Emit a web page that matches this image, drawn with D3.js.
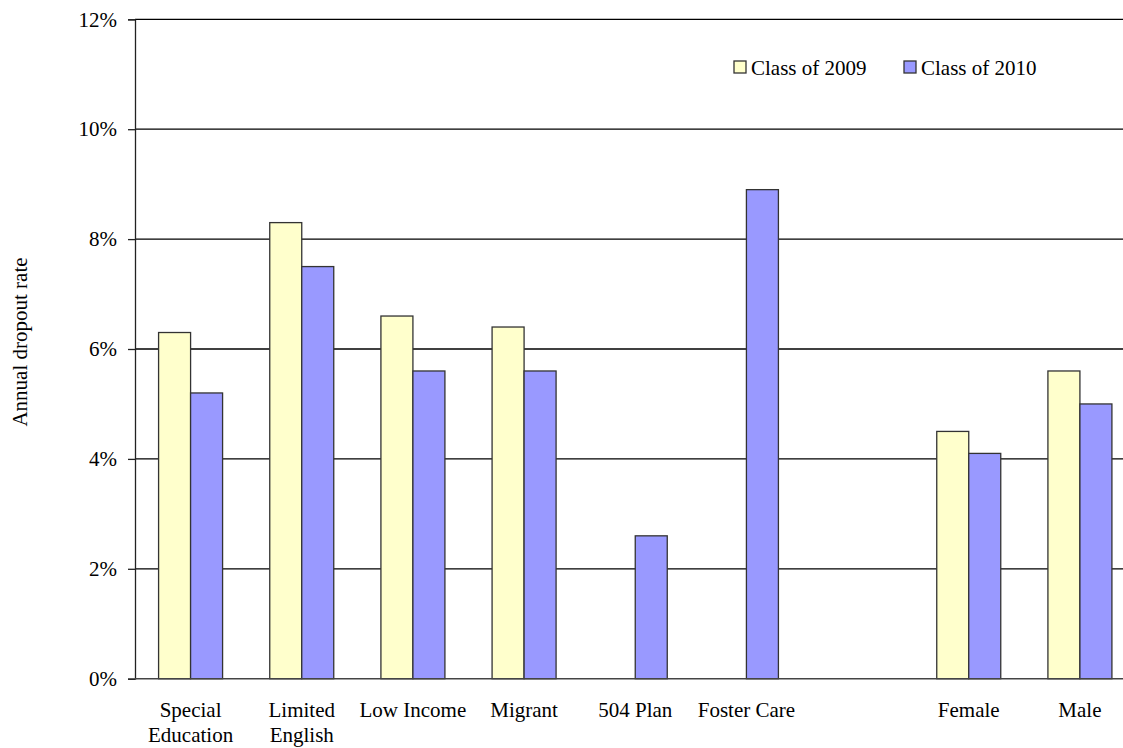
<!DOCTYPE html>
<html>
<head>
<meta charset="utf-8">
<script src="https://cdn.jsdelivr.net/npm/d3@7"></script>
<style>
  html, body { margin: 0; padding: 0; background: #fff; }
  svg { display: block; }
  svg text { font-family: "Liberation Serif", "Times New Roman", "DejaVu Serif", serif !important; }
</style>
</head>
<body>
<svg id="chart" width="1123" height="748"></svg>
<script>
const categories = ["Special Education", "Limited English", "Low Income", "Migrant", "504 Plan", "Foster Care", "", "Female", "Male"];
const categoryLines = [["Special", "Education"], ["Limited", "English"], ["Low Income"], ["Migrant"], ["504 Plan"], ["Foster Care"], [], ["Female"], ["Male"]];
const seriesNames = ["Class of 2009", "Class of 2010"];
const class2009 = [6.3, 8.3, 6.6, 6.4, null, null, null, 4.5, 5.6];
const class2010 = [5.2, 7.5, 5.6, 5.6, 2.6, 8.9, null, 4.1, 5.0];
const yTicks = [0, 2, 4, 6, 8, 10, 12];
const colors = ["#FFFFCC", "#9999FF"];

const FONT = "'Liberation Serif', 'Times New Roman', serif";
const svg = d3.select("#chart");
const mLeft = 135, mRight = 1135.5, mTop = 19.3, mBottom = 678.7;

const x = d3.scaleBand().domain(d3.range(categories.length)).range([mLeft, mRight]).paddingInner(0).paddingOuter(0);
const y = d3.scaleLinear().domain([0, 12]).range([mBottom, mTop]);
const barW = 32;
const inner = d3.scaleBand().domain([0, 1]).range([0, barW * 2]);

// gridlines
svg.append("g").selectAll("line").data(yTicks.filter(t => t > 0)).join("line")
  .attr("x1", mLeft).attr("x2", mRight)
  .attr("y1", d => y(d)).attr("y2", d => y(d))
  .attr("stroke", "#000").attr("stroke-width", 1.3);

// y axis
const yAxis = d3.axisLeft(y).tickValues(yTicks).tickFormat(d => d + "%").tickSize(7).tickPadding(11);
const gy = svg.append("g").attr("transform", `translate(${mLeft},0)`).call(yAxis)
  .attr("font-family", FONT);
gy.select(".domain").attr("stroke", "#222").attr("stroke-width", 1.3);
gy.selectAll(".tick line").attr("stroke", "#222").attr("stroke-width", 1.3);
gy.selectAll(".tick text").attr("font-size", 21).attr("fill", "#000").attr("font-family", FONT);

// bars
const seriesData = [class2009, class2010];
seriesData.forEach((vals, si) => {
  svg.append("g").selectAll("rect")
    .data(vals.map((v, i) => ({ v, i })).filter(d => d.v !== null))
    .join("rect")
    .attr("x", d => x(d.i) + x.bandwidth() / 2 - barW + inner(si))
    .attr("y", d => y(d.v))
    .attr("width", inner.bandwidth())
    .attr("height", d => y(0) - y(d.v))
    .attr("fill", colors[si])
    .attr("stroke", "#333")
    .attr("stroke-width", 1.3);
});

// x axis baseline
svg.append("line").attr("x1", mLeft).attr("x2", mRight).attr("y1", y(0)).attr("y2", y(0))
  .attr("stroke", "#444").attr("stroke-width", 1.6);

// category labels
const xl = svg.append("g").attr("font-size", 21).attr("fill", "#000").attr("text-anchor", "middle").attr("font-family", FONT);
categoryLines.forEach((lines, i) => {
  const t = xl.append("text").attr("x", x(i) + x.bandwidth() / 2).attr("y", 717);
  lines.forEach((ln, k) => {
    t.append("tspan").attr("x", x(i) + x.bandwidth() / 2).attr("dy", k === 0 ? 0 : 24.5).text(ln);
  });
});

// y title
svg.append("text").attr("transform", "translate(27,342) rotate(-90)")
  .attr("text-anchor", "middle").attr("font-size", 21).attr("fill", "#000").attr("font-family", FONT)
  .text("Annual dropout rate");

// legend
const legendX = [734, 904];
seriesNames.forEach((name, i) => {
  svg.append("rect").attr("x", legendX[i]).attr("y", 61).attr("width", 12).attr("height", 12)
    .attr("fill", colors[i]).attr("stroke", "#333").attr("stroke-width", 1.3);
  svg.append("text").attr("x", legendX[i] + 17).attr("y", 74.5).attr("font-size", 21).attr("fill", "#000")
    .attr("font-family", FONT).text(name);
});
</script>
</body>
</html>
